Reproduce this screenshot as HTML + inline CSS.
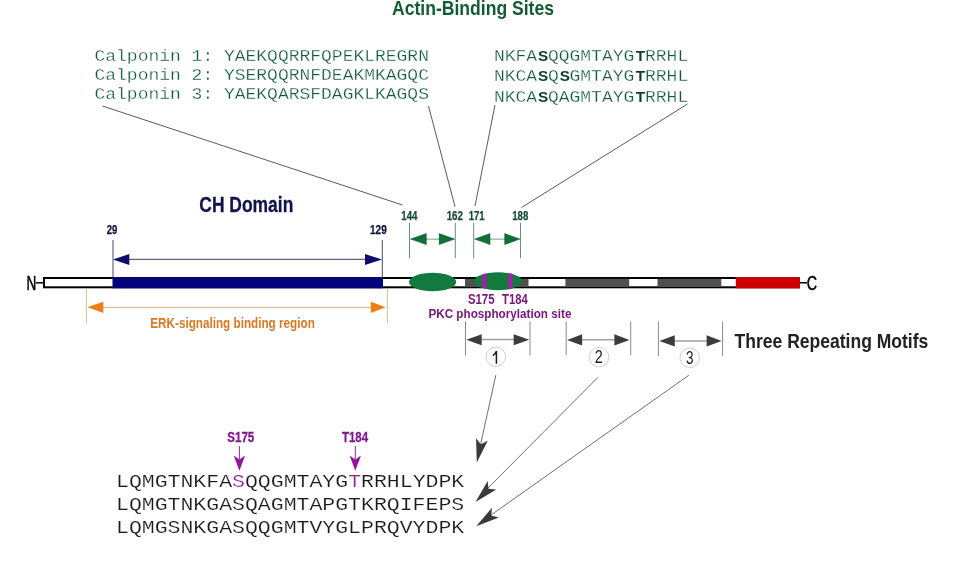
<!DOCTYPE html>
<html><head><meta charset="utf-8">
<style>
html,body{margin:0;padding:0;background:#fff;width:960px;height:568px;overflow:hidden}
svg{display:block;will-change:transform}
.sb{font-family:"Liberation Sans",sans-serif;font-weight:bold}
.sr{font-family:"Liberation Sans",sans-serif}
.mono{font-family:"Liberation Mono",monospace}
</style></head>
<body>
<svg width="960" height="568" viewBox="0 0 960 568">
<defs>
<clipPath id="e2clip"><ellipse cx="498" cy="281.25" rx="24" ry="9"/></clipPath>
</defs>
<rect width="960" height="568" fill="#fff"/>

<!-- Title -->
<text class="sb" x="392" y="15.4" font-size="19.8" fill="#125c32" textLength="162" lengthAdjust="spacingAndGlyphs">Actin-Binding Sites</text>

<!-- top sequences -->
<g class="mono" font-size="18" fill="#0e5a3a" stroke="#fff" stroke-width="0.3" paint-order="fill stroke">
<text transform="translate(94.5,60.8) scale(1,0.91)">Calponin 1: YAEKQQRRFQPEKLREGRN</text>
<text transform="translate(94.5,79.5) scale(1,0.91)">Calponin 2: YSERQQRNFDEAKMKAGQC</text>
<text transform="translate(94.5,98.7) scale(1,0.91)">Calponin 3: YAEKQARSFDAGKLKAGQS</text>
<text transform="translate(494,60.7) scale(1,0.91)" xml:space="preserve">NKFA QQGMTAYG RRHL</text>
<text transform="translate(494,81.1) scale(1,0.91)" xml:space="preserve">NKCA Q GMTAYG RRHL</text>
<text transform="translate(494,101.5) scale(1,0.91)" xml:space="preserve">NKCA QAGMTAYG RRHL</text>
</g>
<g class="sb" font-size="15.3" fill="#0d3d2c" text-anchor="middle">
<text x="543.2" y="60.7">S</text>
<text x="543.2" y="81.1">S</text>
<text x="564.8" y="81.1">S</text>
<text x="543.2" y="101.5">S</text>
<text x="640.4" y="60.7">T</text>
<text x="640.4" y="81.1">T</text>
<text x="640.4" y="101.5">T</text>
</g>

<!-- leader lines -->
<g stroke="#474747" stroke-width="0.9" fill="none">
<line x1="102.5" y1="106" x2="402.5" y2="205"/>
<line x1="428.5" y1="106" x2="455" y2="206.7"/>
<line x1="495" y1="105" x2="475" y2="206"/>
<line x1="687.5" y1="104" x2="521.5" y2="207.5"/>
</g>

<!-- green numbers -->
<g class="sb" font-size="13" fill="#164a30" stroke="#164a30" stroke-width="0.25">
<text x="401.3" y="219.7" textLength="16.2" lengthAdjust="spacingAndGlyphs">144</text>
<text x="446.7" y="219.7" textLength="16.3" lengthAdjust="spacingAndGlyphs">162</text>
<text x="468.7" y="219.7" textLength="16" lengthAdjust="spacingAndGlyphs">171</text>
<text x="512.2" y="219.7" textLength="16.1" lengthAdjust="spacingAndGlyphs">188</text>
</g>
<g stroke="#6a8e80" stroke-width="1">
<line x1="409.5" y1="223" x2="409.5" y2="258.3"/>
<line x1="455.3" y1="223" x2="455.3" y2="258.3"/>
<line x1="473.7" y1="223" x2="473.7" y2="258.3"/>
<line x1="520.5" y1="223" x2="520.5" y2="258.3"/>
<line x1="426" y1="239.2" x2="440" y2="239.2" stroke="#98b4a6" stroke-width="1.3"/>
<line x1="490" y1="239.2" x2="505" y2="239.2" stroke="#98b4a6" stroke-width="1.3"/>
</g>
<g fill="#0f7038" stroke="#0c4e2a" stroke-width="0.5" stroke-linejoin="miter">
<polygon points="410.5,239.1 426.3,233.6 426.3,244.6"/>
<polygon points="454.6,239.1 439.2,233.6 439.2,244.6"/>
<polygon points="474.6,239.1 490,233.6 490,244.6"/>
<polygon points="519.9,239.1 504.7,233.6 504.7,244.6"/>
</g>

<!-- CH domain -->
<text class="sb" x="199.3" y="212.4" font-size="22.6" fill="#12124e" stroke="#12124e" stroke-width="0.3" textLength="94" lengthAdjust="spacingAndGlyphs">CH Domain</text>
<g class="sb" font-size="12" fill="#10103e" stroke="#10103e" stroke-width="0.25">
<text x="106.7" y="234.3" textLength="10.6" lengthAdjust="spacingAndGlyphs">29</text>
<text x="370" y="234.3" textLength="16.7" lengthAdjust="spacingAndGlyphs">129</text>
</g>
<g stroke="#4a4a6a" stroke-width="1">
<line x1="113" y1="240" x2="113" y2="277"/>
<line x1="382.3" y1="240" x2="382.3" y2="277"/>
<line x1="128" y1="259.3" x2="366" y2="259.3" stroke="#3a3a6a"/>
</g>
<g fill="#0c0c6e">
<polygon points="113,259.5 129.3,254 129.3,265"/>
<polygon points="382,259.5 365,254 365,265"/>
</g>

<!-- bar -->
<rect x="44" y="278" width="755" height="9.3" fill="#fff" stroke="#000" stroke-width="2"/>
<rect x="465" y="278.8" width="63.5" height="7.8" fill="#505050"/>
<rect x="565.4" y="278.8" width="63.8" height="7.8" fill="#505050"/>
<rect x="657.5" y="278.8" width="63.8" height="7.8" fill="#505050"/>
<rect x="112.5" y="277" width="270.5" height="11.3" fill="#04047a"/>
<rect x="735.8" y="277" width="64.2" height="11.3" fill="#cc0000"/>
<line x1="36" y1="282.8" x2="43" y2="282.8" stroke="#000" stroke-width="1.5"/>
<line x1="800" y1="282.8" x2="807" y2="282.8" stroke="#000" stroke-width="1.5"/>
<text class="sr" x="26.5" y="290" font-size="19.5" fill="#000" stroke="#000" stroke-width="0.5" textLength="9.8" lengthAdjust="spacingAndGlyphs">N</text>
<text class="sr" x="806.8" y="289.8" font-size="20" fill="#000" stroke="#000" stroke-width="0.5" textLength="10.3" lengthAdjust="spacingAndGlyphs">C</text>

<!-- ellipses -->
<ellipse cx="432.6" cy="282" rx="23.6" ry="9.2" fill="#127a3e"/>
<ellipse cx="498" cy="281.25" rx="24" ry="9" fill="#127a3e"/>
<g clip-path="url(#e2clip)" fill="#a020a8">
<rect x="482" y="270" width="4.4" height="24"/>
<rect x="508.1" y="270" width="4.4" height="24"/>
</g>

<!-- PKC -->
<g class="sb" font-size="14" fill="#7a1880">
<text x="467.9" y="303.8" textLength="26.7" lengthAdjust="spacingAndGlyphs">S175</text>
<text x="502.1" y="303.8" textLength="25.8" lengthAdjust="spacingAndGlyphs">T184</text>
<text x="428.4" y="317.8" font-size="13.5" textLength="143" lengthAdjust="spacingAndGlyphs">PKC phosphorylation site</text>
</g>

<!-- ERK -->
<g stroke="#c8bc8a" stroke-width="0.9">
<line x1="86.4" y1="289" x2="86.4" y2="323.7"/>
<line x1="387.4" y1="289" x2="387.4" y2="323.7"/>
</g>
<line x1="102" y1="307.4" x2="372" y2="307.4" stroke="#c8a884" stroke-width="0.9"/>
<g fill="#f07c14">
<polygon points="87.5,307.3 103.3,301.7 103.3,313"/>
<polygon points="385.6,307.3 370.8,301.7 370.8,313"/>
</g>
<text class="sb" x="150.3" y="327.6" font-size="14.6" fill="#dc7820" textLength="164.5" lengthAdjust="spacingAndGlyphs">ERK-signaling binding region</text>

<!-- motifs -->
<g stroke="#8a8a8a" stroke-width="1">
<line x1="465.5" y1="321.3" x2="465.5" y2="355.5"/>
<line x1="530" y1="321.3" x2="530" y2="355.5"/>
<line x1="566.2" y1="321.6" x2="566.2" y2="355.3"/>
<line x1="630.7" y1="321.6" x2="630.7" y2="355.3"/>
<line x1="658.4" y1="321.6" x2="658.4" y2="355.9"/>
<line x1="722.6" y1="321.6" x2="722.6" y2="355.9"/>
<line x1="481" y1="339.5" x2="514" y2="339.5" stroke="#a0a0a0" stroke-width="1.5"/>
<line x1="582" y1="339.75" x2="615" y2="339.75" stroke="#a0a0a0" stroke-width="1.5"/>
<line x1="674" y1="340.9" x2="707" y2="340.9" stroke="#a0a0a0" stroke-width="1.5"/>
</g>
<g fill="#3c3c3c">
<polygon points="466.3,339.7 481.7,334.2 481.7,345.3"/>
<polygon points="529.2,339.7 513.7,334.2 513.7,345.3"/>
<polygon points="567.1,339.9 582.1,334.3 582.1,345.4"/>
<polygon points="629.4,339.9 614.4,334.3 614.4,345.4"/>
<polygon points="659.4,340.9 674.75,335.25 674.75,346.5"/>
<polygon points="721.6,340.9 706.6,335.25 706.6,346.5"/>
</g>
<g fill="#fff" stroke="#d0d0d0" stroke-width="1">
<circle cx="495.8" cy="356.7" r="9.8"/>
<circle cx="599" cy="357.2" r="9.8"/>
<circle cx="689.75" cy="357.75" r="9.8"/>
</g>
<g class="sr" font-size="18.2" fill="#1a1a1a">

<text x="594.7" y="362.8" textLength="8" lengthAdjust="spacingAndGlyphs">2</text>
<text x="686" y="363.5" textLength="7.5" lengthAdjust="spacingAndGlyphs">3</text>
</g>
<path d="M496.4,351 L496.4,363.8 M492.9,355.6 Q495.4,354.3 496.4,351.3" stroke="#1a1a1a" stroke-width="1.5" fill="none"/>
<text class="sb" x="734.6" y="347.5" font-size="20.5" fill="#222" textLength="193.7" lengthAdjust="spacingAndGlyphs">Three Repeating Motifs</text>

<!-- lower sequences -->
<g class="mono" font-size="21.5" fill="#1a1a1a" stroke="#fff" stroke-width="0.2" paint-order="fill stroke">
<text transform="translate(116,486.9) scale(1,0.87)">LQMGTNKFA<tspan fill="#8a2a90">S</tspan>QQGMTAYG<tspan fill="#8a2a90">T</tspan>RRHLYDPK</text>
<text transform="translate(116,509.8) scale(1,0.87)">LQMGTNKGASQAGMTAPGTKRQIFEPS</text>
<text transform="translate(116,532.6) scale(1,0.87)">LQMGSNKGASQQGMTVYGLPRQVYDPK</text>
</g>
<g class="sb" font-size="14.5" fill="#84168e" stroke="#84168e" stroke-width="0.3">
<text x="227.3" y="441.8" textLength="27" lengthAdjust="spacingAndGlyphs">S175</text>
<text x="342" y="441.9" textLength="26.1" lengthAdjust="spacingAndGlyphs">T184</text>
</g>
<g stroke="#8a2a90" stroke-width="1">
<line x1="239.4" y1="446" x2="239.4" y2="459"/>
<line x1="355.3" y1="446" x2="355.3" y2="459"/>
</g>
<g fill="#9414a0">
<polygon points="233.7,455.4 239.4,459.5 245.1,455.4 239.4,470.8"/>
<polygon points="349.6,455.4 355.3,459.5 361,455.4 355.3,470.8"/>
</g>

<!-- big arrows -->
<g stroke="#606060" stroke-width="0.9" fill="none">
<line x1="495.8" y1="375.2" x2="480" y2="447"/>
<line x1="597.9" y1="377.4" x2="488" y2="488"/>
<line x1="688.9" y1="375.2" x2="491" y2="515"/>
</g>
<g fill="#3a3a3a">
<path d="M0,0 L-23.5,-6 L-18.5,0 L-23.5,6 Z" transform="translate(476.8,462.4) rotate(102.5)"/>
<path d="M0,0 L-23.5,-6 L-18.5,0 L-23.5,6 Z" transform="translate(475.5,502) rotate(134.5)"/>
<path d="M0,0 L-23.5,-6 L-18.5,0 L-23.5,6 Z" transform="translate(476.2,526.3) rotate(144.6)"/>
</g>
</svg>
</body></html>
